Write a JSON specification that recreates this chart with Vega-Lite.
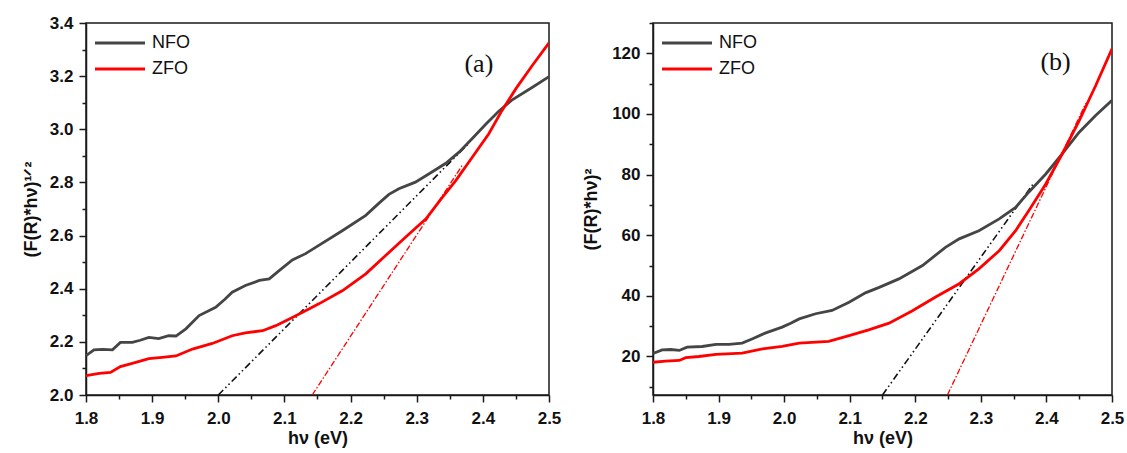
{
  "$schema": "https://vega.github.io/schema/vega-lite/v6.json",
  "background": "white",
  "padding": {"left": 21, "top": 13, "right": 0, "bottom": 0},
  "config": {
    "font": "Liberation Sans",
    "view": {"stroke": "#1a1a1a", "strokeWidth": 1.5},
    "axis": {
      "grid": false,
      "domainColor": "#1a1a1a",
      "domainWidth": 1.5,
      "tickColor": "#1a1a1a",
      "tickWidth": 1.5,
      "labelFont": "Liberation Sans",
      "labelFontWeight": "bold",
      "labelFontSize": 17,
      "labelColor": "#111111",
      "labelOverlap": false,
      "labelFlush": false,
      "labelBound": false,
      "titleFont": "Liberation Sans",
      "titleFontWeight": "bold",
      "titleFontSize": 18,
      "titleColor": "#111111"
    },
    "legend": {
      "orient": "top-left",
      "offset": 11,
      "padding": 0,
      "symbolType": "M-2.2,0H7.8",
      "symbolSize": 100,
      "symbolStrokeWidth": 3,
      "labelFont": "Liberation Sans",
      "labelFontSize": 18,
      "labelFontWeight": "normal",
      "labelColor": "#111111",
      "labelOffset": 37,
      "rowPadding": 8
    }
  },
  "datasets": {
    "curveA": [
      {"series": "NFO", "x": 1.800, "y": 2.148}, {"series": "NFO", "x": 1.812, "y": 2.170}, {"series": "NFO", "x": 1.825, "y": 2.172},
      {"series": "NFO", "x": 1.840, "y": 2.170}, {"series": "NFO", "x": 1.852, "y": 2.198}, {"series": "NFO", "x": 1.870, "y": 2.198},
      {"series": "NFO", "x": 1.882, "y": 2.206}, {"series": "NFO", "x": 1.895, "y": 2.217}, {"series": "NFO", "x": 1.910, "y": 2.212},
      {"series": "NFO", "x": 1.925, "y": 2.223}, {"series": "NFO", "x": 1.936, "y": 2.222}, {"series": "NFO", "x": 1.951, "y": 2.249},
      {"series": "NFO", "x": 1.971, "y": 2.299}, {"series": "NFO", "x": 1.996, "y": 2.330}, {"series": "NFO", "x": 2.010, "y": 2.360},
      {"series": "NFO", "x": 2.021, "y": 2.387}, {"series": "NFO", "x": 2.041, "y": 2.412}, {"series": "NFO", "x": 2.062, "y": 2.431},
      {"series": "NFO", "x": 2.077, "y": 2.437}, {"series": "NFO", "x": 2.092, "y": 2.468}, {"series": "NFO", "x": 2.112, "y": 2.508},
      {"series": "NFO", "x": 2.132, "y": 2.532}, {"series": "NFO", "x": 2.152, "y": 2.563}, {"series": "NFO", "x": 2.188, "y": 2.619},
      {"series": "NFO", "x": 2.223, "y": 2.676}, {"series": "NFO", "x": 2.243, "y": 2.722}, {"series": "NFO", "x": 2.258, "y": 2.755},
      {"series": "NFO", "x": 2.273, "y": 2.776}, {"series": "NFO", "x": 2.298, "y": 2.801}, {"series": "NFO", "x": 2.323, "y": 2.839},
      {"series": "NFO", "x": 2.344, "y": 2.872}, {"series": "NFO", "x": 2.364, "y": 2.914}, {"series": "NFO", "x": 2.384, "y": 2.965},
      {"series": "NFO", "x": 2.404, "y": 3.018}, {"series": "NFO", "x": 2.424, "y": 3.068}, {"series": "NFO", "x": 2.445, "y": 3.112},
      {"series": "NFO", "x": 2.475, "y": 3.158}, {"series": "NFO", "x": 2.500, "y": 3.198},
      {"series": "ZFO", "x": 1.800, "y": 2.073}, {"series": "ZFO", "x": 1.820, "y": 2.081}, {"series": "ZFO", "x": 1.837, "y": 2.085},
      {"series": "ZFO", "x": 1.852, "y": 2.107}, {"series": "ZFO", "x": 1.870, "y": 2.119}, {"series": "ZFO", "x": 1.895, "y": 2.137},
      {"series": "ZFO", "x": 1.915, "y": 2.142}, {"series": "ZFO", "x": 1.936, "y": 2.147}, {"series": "ZFO", "x": 1.961, "y": 2.173},
      {"series": "ZFO", "x": 1.991, "y": 2.194}, {"series": "ZFO", "x": 2.021, "y": 2.223}, {"series": "ZFO", "x": 2.041, "y": 2.234},
      {"series": "ZFO", "x": 2.067, "y": 2.242}, {"series": "ZFO", "x": 2.087, "y": 2.261}, {"series": "ZFO", "x": 2.112, "y": 2.292},
      {"series": "ZFO", "x": 2.137, "y": 2.324}, {"series": "ZFO", "x": 2.152, "y": 2.343}, {"series": "ZFO", "x": 2.188, "y": 2.393},
      {"series": "ZFO", "x": 2.223, "y": 2.456}, {"series": "ZFO", "x": 2.253, "y": 2.525}, {"series": "ZFO", "x": 2.283, "y": 2.594},
      {"series": "ZFO", "x": 2.314, "y": 2.663}, {"series": "ZFO", "x": 2.339, "y": 2.745}, {"series": "ZFO", "x": 2.359, "y": 2.807},
      {"series": "ZFO", "x": 2.384, "y": 2.895}, {"series": "ZFO", "x": 2.409, "y": 2.983}, {"series": "ZFO", "x": 2.429, "y": 3.071},
      {"series": "ZFO", "x": 2.450, "y": 3.153}, {"series": "ZFO", "x": 2.475, "y": 3.241}, {"series": "ZFO", "x": 2.500, "y": 3.325}
    ],
    "fitA": [
      {"series": "NFO", "x": 2.000, "y": 2.000}, {"series": "NFO", "x": 2.380, "y": 2.950},
      {"series": "ZFO", "x": 2.142, "y": 2.000}, {"series": "ZFO", "x": 2.370, "y": 2.869}
    ],
    "curveB": [
      {"series": "NFO", "x": 1.800, "y": 21.0}, {"series": "NFO", "x": 1.814, "y": 22.2}, {"series": "NFO", "x": 1.827, "y": 22.3},
      {"series": "NFO", "x": 1.840, "y": 22.0}, {"series": "NFO", "x": 1.852, "y": 23.1}, {"series": "NFO", "x": 1.875, "y": 23.3},
      {"series": "NFO", "x": 1.896, "y": 24.0}, {"series": "NFO", "x": 1.916, "y": 24.0}, {"series": "NFO", "x": 1.936, "y": 24.4},
      {"series": "NFO", "x": 1.951, "y": 25.8}, {"series": "NFO", "x": 1.972, "y": 27.8}, {"series": "NFO", "x": 1.997, "y": 29.7},
      {"series": "NFO", "x": 2.010, "y": 31.0}, {"series": "NFO", "x": 2.023, "y": 32.4}, {"series": "NFO", "x": 2.048, "y": 34.1},
      {"series": "NFO", "x": 2.073, "y": 35.2}, {"series": "NFO", "x": 2.099, "y": 37.9}, {"series": "NFO", "x": 2.124, "y": 41.0},
      {"series": "NFO", "x": 2.145, "y": 42.8}, {"series": "NFO", "x": 2.175, "y": 45.6}, {"series": "NFO", "x": 2.211, "y": 50.0},
      {"series": "NFO", "x": 2.246, "y": 56.0}, {"series": "NFO", "x": 2.267, "y": 58.8}, {"series": "NFO", "x": 2.297, "y": 61.5},
      {"series": "NFO", "x": 2.328, "y": 65.4}, {"series": "NFO", "x": 2.353, "y": 69.2}, {"series": "NFO", "x": 2.373, "y": 74.2},
      {"series": "NFO", "x": 2.399, "y": 80.2}, {"series": "NFO", "x": 2.424, "y": 86.8}, {"series": "NFO", "x": 2.450, "y": 94.0},
      {"series": "NFO", "x": 2.475, "y": 99.5}, {"series": "NFO", "x": 2.500, "y": 104.5},
      {"series": "ZFO", "x": 1.800, "y": 18.1}, {"series": "ZFO", "x": 1.819, "y": 18.5}, {"series": "ZFO", "x": 1.840, "y": 18.7},
      {"series": "ZFO", "x": 1.850, "y": 19.6}, {"series": "ZFO", "x": 1.870, "y": 20.0}, {"series": "ZFO", "x": 1.896, "y": 20.7},
      {"series": "ZFO", "x": 1.936, "y": 21.1}, {"series": "ZFO", "x": 1.967, "y": 22.5}, {"series": "ZFO", "x": 1.997, "y": 23.3},
      {"series": "ZFO", "x": 2.023, "y": 24.4}, {"series": "ZFO", "x": 2.068, "y": 25.0}, {"series": "ZFO", "x": 2.099, "y": 26.9},
      {"series": "ZFO", "x": 2.129, "y": 28.8}, {"series": "ZFO", "x": 2.160, "y": 31.0}, {"series": "ZFO", "x": 2.195, "y": 35.0},
      {"series": "ZFO", "x": 2.231, "y": 39.6}, {"series": "ZFO", "x": 2.267, "y": 44.0}, {"series": "ZFO", "x": 2.297, "y": 48.9},
      {"series": "ZFO", "x": 2.328, "y": 54.9}, {"series": "ZFO", "x": 2.353, "y": 61.5}, {"series": "ZFO", "x": 2.373, "y": 68.1},
      {"series": "ZFO", "x": 2.399, "y": 76.9}, {"series": "ZFO", "x": 2.424, "y": 86.8}, {"series": "ZFO", "x": 2.450, "y": 97.8},
      {"series": "ZFO", "x": 2.475, "y": 109.3}, {"series": "ZFO", "x": 2.500, "y": 121.5}
    ],
    "fitB": [
      {"series": "NFO", "x": 2.150, "y": 7.3}, {"series": "NFO", "x": 2.380, "y": 77.0},
      {"series": "ZFO", "x": 2.249, "y": 7.3}, {"series": "ZFO", "x": 2.460, "y": 103.5}
    ],
    "tagA": [{"label": "(a)", "x": 2.394, "y": 3.247}],
    "tagB": [{"label": "(b)", "x": 2.414, "y": 117.0}]
  },
  "hconcat": [
    {
      "width": 463,
      "height": 372,
      "layer": [
        {
          "data": {"name": "fitA"},
          "transform": [{"filter": "datum.series === 'NFO'"}],
          "mark": {"type": "line", "color": "#111111", "strokeWidth": 1.6, "strokeDash": [7, 3, 1.5, 3, 1.5, 3], "clip": true},
          "encoding": {
            "x": {"field": "x", "type": "quantitative", "scale": {"domain": [1.8, 2.5], "nice": false, "zero": false},
              "axis": {"orient": "bottom", "values": [1.85, 1.95, 2.05, 2.15, 2.25, 2.35, 2.45], "labels": false, "domain": false, "tickSize": 4, "title": null}},
            "y": {"field": "y", "type": "quantitative", "scale": {"domain": [2.0, 3.4], "nice": false, "zero": false},
              "axis": {"orient": "left", "values": [2.1, 2.3, 2.5, 2.7, 2.9, 3.1, 3.3], "labels": false, "domain": false, "tickSize": 4, "title": null}}
          }
        },
        {
          "data": {"name": "fitA"},
          "transform": [{"filter": "datum.series === 'ZFO'"}],
          "mark": {"type": "line", "color": "#ff0000", "strokeWidth": 1.3, "strokeDash": [6, 2, 1.5, 2], "clip": true},
          "encoding": {
            "x": {"field": "x", "type": "quantitative", "axis": null},
            "y": {"field": "y", "type": "quantitative", "axis": null}
          }
        },
        {
          "data": {"name": "curveA"},
          "mark": {"type": "line", "strokeWidth": 2.8, "clip": true},
          "encoding": {
            "x": {"field": "x", "type": "quantitative",
              "axis": {"orient": "bottom", "values": [1.8, 1.9, 2.0, 2.1, 2.2, 2.3, 2.4, 2.5], "format": ".1f", "tickSize": 7, "labelPadding": 8, "title": "hν (eV)", "titlePadding": 3}},
            "y": {"field": "y", "type": "quantitative",
              "axis": {"orient": "left", "values": [2.0, 2.2, 2.4, 2.6, 2.8, 3.0, 3.2, 3.4], "format": ".1f", "tickSize": 7, "labelPadding": 6, "title": "(F(R)*hν)¹ᐟ²", "titlePadding": 9}},
            "color": {"field": "series", "type": "nominal",
              "scale": {"domain": ["NFO", "ZFO"], "range": ["#454545", "#ff0000"]},
              "legend": {"title": null}}
          }
        },
        {
          "data": {"name": "tagA"},
          "mark": {"type": "text", "font": "Liberation Serif", "fontSize": 26, "color": "#111111"},
          "encoding": {
            "x": {"field": "x", "type": "quantitative", "axis": null},
            "y": {"field": "y", "type": "quantitative", "axis": null},
            "text": {"field": "label"}
          }
        }
      ],
      "resolve": {"axis": {"x": "independent", "y": "independent"}}
    },
    {
      "width": 459,
      "height": 372,
      "layer": [
        {
          "data": {"name": "fitB"},
          "transform": [{"filter": "datum.series === 'NFO'"}],
          "mark": {"type": "line", "color": "#111111", "strokeWidth": 1.6, "strokeDash": [7, 3, 1.5, 3, 1.5, 3], "clip": true},
          "encoding": {
            "x": {"field": "x", "type": "quantitative", "scale": {"domain": [1.8, 2.5], "nice": false, "zero": false},
              "axis": {"orient": "bottom", "values": [1.85, 1.95, 2.05, 2.15, 2.25, 2.35, 2.45], "labels": false, "domain": false, "tickSize": 4, "title": null}},
            "y": {"field": "y", "type": "quantitative", "scale": {"domain": [7.3, 130], "nice": false, "zero": false},
              "axis": {"orient": "left", "values": [10, 30, 50, 70, 90, 110, 130], "labels": false, "domain": false, "tickSize": 4, "title": null}}
          }
        },
        {
          "data": {"name": "fitB"},
          "transform": [{"filter": "datum.series === 'ZFO'"}],
          "mark": {"type": "line", "color": "#ff0000", "strokeWidth": 1.3, "strokeDash": [6, 2, 1.5, 2], "clip": true},
          "encoding": {
            "x": {"field": "x", "type": "quantitative", "axis": null},
            "y": {"field": "y", "type": "quantitative", "axis": null}
          }
        },
        {
          "data": {"name": "curveB"},
          "mark": {"type": "line", "strokeWidth": 2.8, "clip": true},
          "encoding": {
            "x": {"field": "x", "type": "quantitative",
              "axis": {"orient": "bottom", "values": [1.8, 1.9, 2.0, 2.1, 2.2, 2.3, 2.4, 2.5], "format": ".1f", "tickSize": 7, "labelPadding": 8, "title": "hν (eV)", "titlePadding": 3}},
            "y": {"field": "y", "type": "quantitative",
              "axis": {"orient": "left", "values": [20, 40, 60, 80, 100, 120], "format": "d", "tickSize": 7, "labelPadding": 6, "title": "(F(R)*hν)²", "titlePadding": 11}},
            "color": {"field": "series", "type": "nominal",
              "scale": {"domain": ["NFO", "ZFO"], "range": ["#454545", "#ff0000"]},
              "legend": {"title": null}}
          }
        },
        {
          "data": {"name": "tagB"},
          "mark": {"type": "text", "font": "Liberation Serif", "fontSize": 26, "color": "#111111"},
          "encoding": {
            "x": {"field": "x", "type": "quantitative", "axis": null},
            "y": {"field": "y", "type": "quantitative", "axis": null},
            "text": {"field": "label"}
          }
        }
      ],
      "resolve": {"axis": {"x": "independent", "y": "independent"}}
    }
  ],
  "spacing": 19,
  "resolve": {"scale": {"x": "independent", "y": "independent", "color": "independent"}, "legend": {"color": "independent"}}
}
